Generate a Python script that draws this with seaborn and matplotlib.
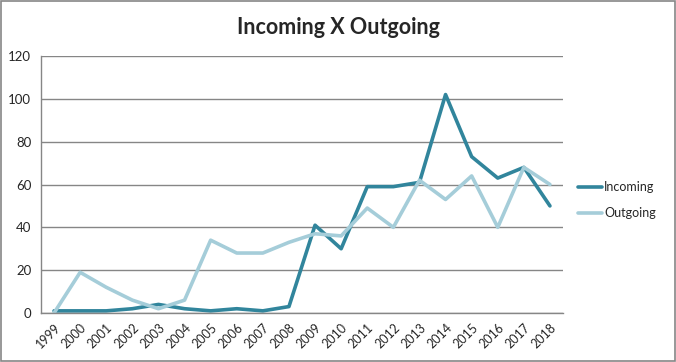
"""
Incoming vs outgoing yearly counts - line chart.
"""

import numpy as np
import pandas as pd
import matplotlib
matplotlib.use("Agg")
import matplotlib.pyplot as plt
import seaborn as sns

years = [str(y) for y in range(1999, 2019)]
incoming = [1, 1, 1, 2, 4, 2, 1, 2, 1, 3, 41, 30, 59, 59, 61, 102, 73, 63, 68, 50]
outgoing = [0, 19, 12, 6, 2, 6, 34, 28, 28, 33, 37, 36, 49, 40, 62, 53, 64, 40, 68, 60]
series_names = ["Incoming", "Outgoing"]
series_colors = ["#31859C", "#A5CDD9"]

df = pd.DataFrame({
    "pos": list(range(len(years))) * 2,
    "value": incoming + outgoing,
    "series": [series_names[0]] * len(years) + [series_names[1]] * len(years),
})

sns.set_style("white")
plt.rcParams["font.family"] = ["Lato", "DejaVu Sans"]

fig = plt.figure(figsize=(6.76, 3.62), dpi=100)
ax = fig.add_axes([41 / 676, 49 / 362, (563 - 41) / 676, (313 - 56) / 362])

sns.lineplot(
    data=df, x="pos", y="value", hue="series",
    palette=series_colors, linewidth=2.6, ax=ax, legend=False,
)

ax.set_xlim(-0.5, len(years) - 0.5)
ax.set_ylim(0, 120)
ax.set_yticks(np.arange(0, 121, 20))
ax.yaxis.grid(True, color="#868686", linewidth=1)
ax.set_axisbelow(True)

ax.set_xticks(range(len(years)))
ax.set_xticklabels(years, rotation=45, fontsize=9, ha="right", rotation_mode="anchor")
ax.set_xticks(np.arange(-0.5, len(years), 1), minor=True)
ax.tick_params(axis="x", which="major", length=0, pad=6)
ax.tick_params(axis="x", which="minor", length=4, color="#868686", width=1)
ax.tick_params(axis="y", length=4, color="#868686", width=1, labelsize=9.5, pad=3)
ax.set_xlabel("")
ax.set_ylabel("")

for side in ["top", "right"]:
    ax.spines[side].set_visible(False)
for side in ["left", "bottom"]:
    ax.spines[side].set_color("#868686")
    ax.spines[side].set_linewidth(1)

handles = [plt.Line2D([], [], color=c, linewidth=2.6) for c in series_colors]
fig.legend(
    handles, series_names, loc="center left", bbox_to_anchor=(574 / 676, 1 - 200 / 362),
    frameon=False, fontsize=9, handlelength=1.9, handletextpad=0.2, labelspacing=1.1,
    borderaxespad=0, borderpad=0.3,
)

fig.text(0.5, 1 - 27 / 362, "Incoming X Outgoing", ha="center", va="center",
         fontsize=15.5, fontweight="bold")

# outer chart border
fig.patches.append(plt.Rectangle((0.0015, 0.003), 0.997, 0.994, transform=fig.transFigure,
                                 fill=False, edgecolor="#868686", linewidth=1.2))

fig.savefig("out.png", dpi=100)
